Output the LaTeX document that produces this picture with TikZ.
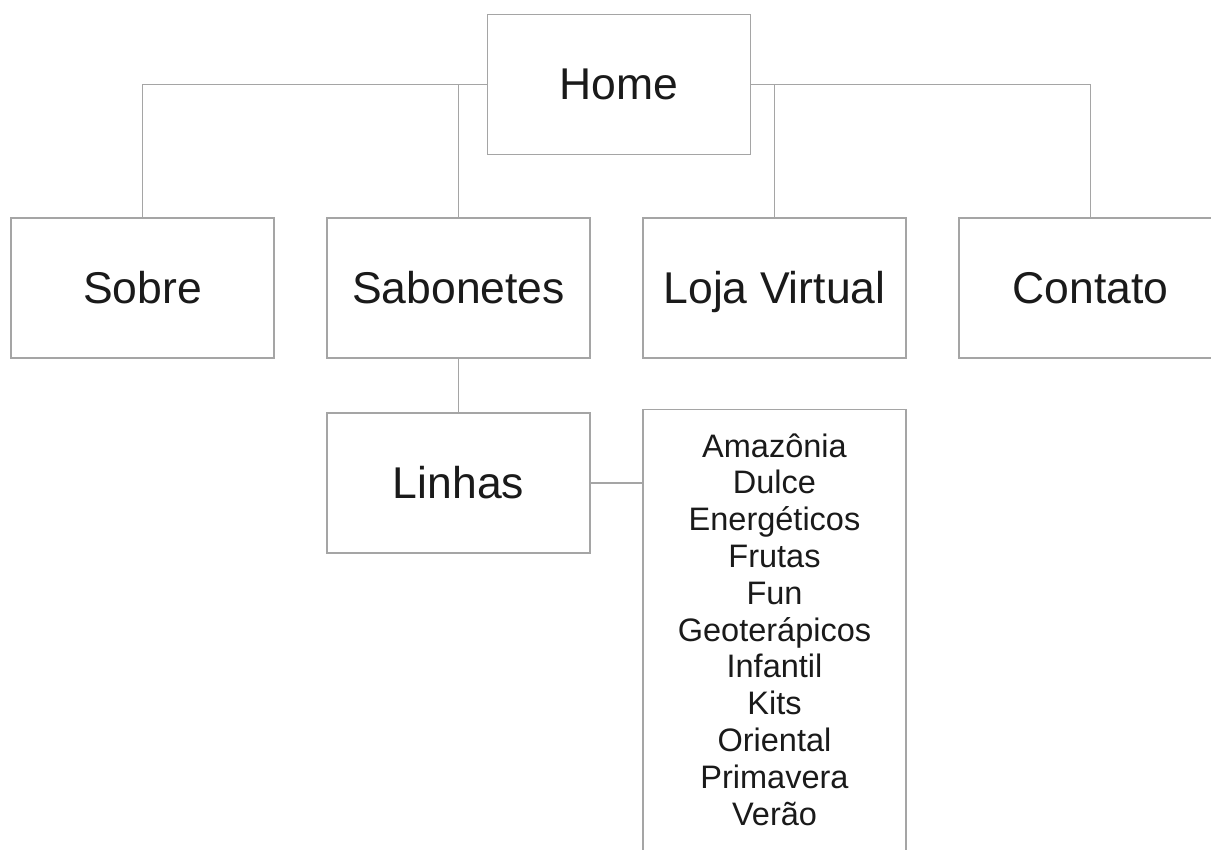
\documentclass[tikz,border=0pt]{standalone}
\usepackage{fontspec}
\setmainfont{Liberation Sans}
\definecolor{lineg}{RGB}{165,165,165}
\definecolor{txt}{RGB}{26,26,26}
\tikzset{
  box/.style={draw=lineg, line width=1.3pt, rectangle, minimum width=263pt, minimum height=140pt, inner sep=0pt,
    text=txt, font=\fontsize{44.5}{50}\selectfont, text height=31pt, text depth=0pt},
  listbox/.style={draw=lineg, line width=1.3pt, rectangle, minimum width=263pt, minimum height=520pt, inner sep=0pt, anchor=north},
  listitem/.style={anchor=base, inner sep=0pt, text=txt, font=\fontsize{32.5}{36.8}\selectfont},
  conn/.style={draw=lineg, line width=1.3pt}
}
\begin{document}
\begin{tikzpicture}[x=1pt,y=-1pt]
\useasboundingbox (0,0) rectangle (1211,850);
\clip (0,0) rectangle (1211,850);
\fill[white] (0,0) rectangle (1211,850);
\node[box] (home) at (619,84.5) {Home};
\node[box] (sobre) at (142.5,288) {Sobre};
\node[box] (sabonetes) at (458.5,288) {Sabonetes};
\node[box] (loja) at (774.5,288) {Loja Virtual};
\node[box] (contato) at (1090.5,288) {Contato};
\node[box] (linhas) at (458.5,483) {Linhas};
\node[listbox] (lista) at (774.5,409) {};
\foreach \t [count=\i] in {Amazônia,Dulce,Energéticos,Frutas,Fun,Geoterápicos,Infantil,Kits,Oriental,Primavera,Verão}
  \node[listitem] (item\i) at (774.5,{457+36.8*(\i-1)}) {\t};
\draw[conn] (home.west) -| (sobre.north);
\draw[conn] (sabonetes.north) |- (home.west);
\draw[conn] (home.east) -| (contato.north);
\draw[conn] (loja.north) |- (home.east);
\draw[conn] (sabonetes.south) -- (linhas.north);
\draw[conn] (linhas.east) -- (linhas.east -| lista.west);
\end{tikzpicture}
\end{document}
